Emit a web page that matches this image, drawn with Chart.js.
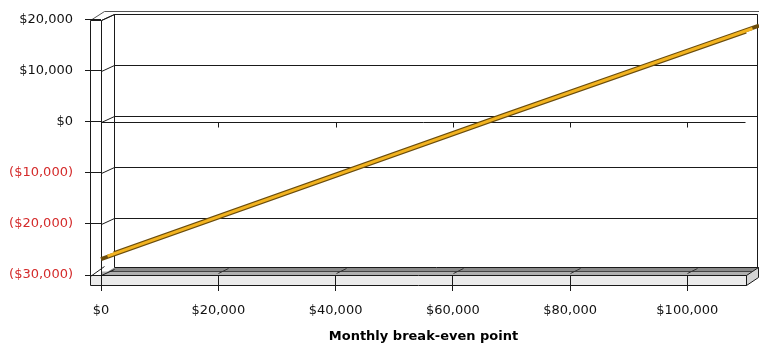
<!DOCTYPE html>
<html>
<head>
<meta charset="utf-8">
<script src="https://cdn.jsdelivr.net/npm/chart.js@4/dist/chart.umd.min.js"></script>
<style>
  html, body { margin: 0; padding: 0; background: #fff; }
  #wrap { width: 759px; height: 345px; position: relative; }
</style>
</head>
<body>
<div id="wrap"><canvas id="c"></canvas></div>
<script>
// Monthly revenue (x) against monthly profit (y)
const revenue = [0, 66000, 110000];
const profit  = [-26900, 0, 17700];

// Axis tick values
const xTicks = [0, 20000, 40000, 60000, 80000, 100000];
const yTicks = [-30000, -20000, -10000, 0, 10000, 20000];
const axisTitle = 'Monthly break-even point';

const FONT = 'DejaVu Sans';
const DX = 13, DY = -6;        // depth offset of the back wall
const WALL = 11;               // thickness of the side wall
const FLOOR = 10;              // height of the floor slab front face

function money(v) {
  const s = '$' + Math.abs(v).toLocaleString('en-US');
  return v < 0 ? '(' + s + ')' : s;
}

// Draws the 3-D walls, floor and gridlines behind everything else,
// and places each series layer at its depth inside the box.
const box3d = {
  id: 'box3d',
  beforeDraw(chart) {
    const { ctx, chartArea: a, scales: { x, y } } = chart;
    const L = Math.round(a.left) + 0.5, R = Math.round(a.right) + 0.5;
    const T = Math.round(a.top) + 0.5, B = Math.round(a.bottom) + 0.5;
    const W = L - WALL;
    const BR = R + DX - 2;
    const fy = v => Math.round(y.getPixelForValue(v)) + 0.5;
    const fx = v => Math.round(x.getPixelForValue(v)) + 0.5;
    const line = (x1, y1, x2, y2, c) => {
      ctx.strokeStyle = c || '#1a1a1a';
      ctx.beginPath(); ctx.moveTo(x1, y1); ctx.lineTo(x2, y2); ctx.stroke();
    };
    ctx.save();
    ctx.lineWidth = 1;

    // floor top face
    ctx.fillStyle = '#8a8a8a';
    ctx.beginPath();
    ctx.moveTo(L, B); ctx.lineTo(R, B); ctx.lineTo(R + DX, B + DY - 2); ctx.lineTo(L + DX, B + DY - 2);
    ctx.closePath(); ctx.fill();
    ctx.fillStyle = '#b0b0b0';
    ctx.fillRect(L, B - 4, R - L + 6, 4);
    // floor front face
    ctx.fillStyle = '#ebebeb';
    ctx.fillRect(W, B, R - W, FLOOR);
    // floor end cap
    ctx.fillStyle = '#d4d4d4';
    ctx.strokeStyle = '#1a1a1a';
    ctx.beginPath();
    ctx.moveTo(R, B); ctx.lineTo(R + DX - 1, B + DY - 2); ctx.lineTo(R + DX - 1, B + DY - 2 + FLOOR); ctx.lineTo(R, B + FLOOR);
    ctx.closePath(); ctx.fill();
    ctx.stroke();
    line(L + DX, B + DY - 2, R + DX - 1, B + DY - 2);
    line(L + 8, B - 4, R + 6, B - 4, '#444');
    line(W, B, R, B);
    line(W, B + FLOOR, R, B + FLOOR);
    line(R, B, R, B + FLOOR);
    // floor tick creases
    xTicks.forEach(v => {
      if (v === 0) return;
      const px = fx(v);
      line(px, B - 2, px + 10, B + DY - 1, '#333');
    });

    // back wall top thickness
    line(W, T, W + DX + 1, T + DY - 3, '#555');
    line(W + DX + 1, T + DY - 3, R + DX, T + DY - 3, '#555');
    line(L, T, L + DX, T + DY);
    line(L + DX, T + DY, BR, T + DY);

    // back wall gridlines and their left-wall diagonals
    yTicks.forEach(v => {
      const py = fy(v);
      line(L, py, L + DX, py + DY);
      if (v !== yTicks[0]) line(L + DX, py + DY, BR, py + DY);
    });
    // back wall verticals
    line(L + DX, T + DY, L + DX, B + DY - 2);
    line(BR, T + DY, BR, B + DY - 2);

    // side wall
    ctx.fillStyle = '#fff';
    ctx.fillRect(W, T, WALL, B - T);
    line(W, T, L, T);
    line(W, T, W, B + FLOOR);
    line(L, T, L, B + FLOOR);
    line(W, B + 1, W + DX + 1, B + DY - 3);

    // front zero line with small ticks
    const z = fy(0);
    line(L, z, R - 1, z);
    xTicks.forEach(v => {
      if (v === 0) return;
      const px = fx(v);
      line(px, z, px, z + 5);
    });
    ctx.restore();
  },
  beforeDatasetDraw(chart, args) {
    const d = chart.data.datasets[args.index].depth || 0;
    chart.ctx.save();
    chart.ctx.translate(DX * d, DY * d);
  },
  afterDatasetDraw(chart) {
    chart.ctx.restore();
  }
};

const points = revenue.map((r, i) => ({ x: r, y: profit[i] }));
const ribbon = (depth, color, width, order) => ({
  data: points, depth, order,
  borderColor: color, borderWidth: width,
  pointRadius: 0, tension: 0, clip: false,
  borderCapStyle: 'butt'
});

new Chart(document.getElementById('c'), {
  type: 'line',
  data: {
    datasets: [
      ribbon(0, '#6a4c0c', 4, 2),     // front edge of the ribbon
      ribbon(1, '#6a4c0c', 4, 1),     // back edge of the ribbon
      ribbon(0.5, '#f2b320', 3, 0)    // ribbon face
    ]
  },
  options: {
    responsive: true,
    maintainAspectRatio: false,
    animation: false,
    devicePixelRatio: 1,
    layout: { padding: { top: 10, right: 13, left: 0, bottom: 0 } },
    plugins: {
      legend: { display: false },
      tooltip: { enabled: false }
    },
    scales: {
      x: {
        type: 'linear',
        position: 'bottom',
        min: 0,
        max: 110000,
        afterBuildTicks: s => { s.ticks = xTicks.map(v => ({ value: v })); },
        afterFit: s => { s.height = 70; },
        grid: { drawOnChartArea: false, drawTicks: true, tickLength: 16, color: '#1a1a1a' },
        border: { display: false },
        ticks: {
          padding: 12,
          maxRotation: 0,
          color: '#111',
          font: { family: FONT, size: 13 },
          callback: v => money(v)
        },
        title: {
          display: true,
          text: axisTitle,
          color: '#000',
          font: { family: FONT, size: 13, weight: 'bold' },
          padding: { top: 0, bottom: 1 }
        }
      },
      y: {
        type: 'linear',
        min: -30000,
        max: 20000,
        afterBuildTicks: s => { s.ticks = yTicks.map(v => ({ value: v })); },
        afterFit: s => { s.width = 101; },
        grid: { drawOnChartArea: false, drawTicks: true, tickLength: 16, color: '#1a1a1a' },
        border: { display: false },
        ticks: {
          padding: 12,
          color: c => (c.tick && c.tick.value < 0) ? '#d42a2a' : '#111',
          font: { family: FONT, size: 13 },
          callback: v => money(v)
        }
      }
    }
  },
  plugins: [box3d]
});
</script>
</body>
</html>
